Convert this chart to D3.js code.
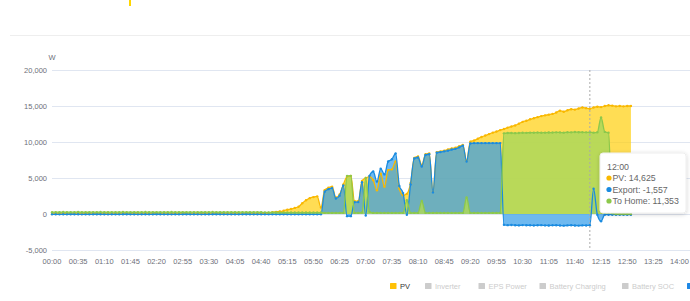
<!DOCTYPE html>
<html>
<head>
<meta charset="utf-8">
<script src="https://cdn.jsdelivr.net/npm/d3@7"></script>
<style>
  body { margin: 0; background: #fff; }
  svg { display: block; font-family: "Liberation Sans", Arial, sans-serif; }
</style>
</head>
<body>
<svg id="chart" width="690" height="301"></svg>
<script>
// categories are 5 minute steps starting at 00:00
var stepMinutes = 5;
var xTickLabels = ["00:00","00:35","01:10","01:45","02:20","02:55","03:30","04:05","04:40","05:15","05:50","06:25","07:00",
                   "07:35","08:10","08:45","09:20","09:55","10:30","11:05","11:40","12:15","12:50","13:25","14:00"];
var yTicks = [20000, 15000, 10000, 5000, 0, -5000];

// PV (W)
var pv = [
  0,0,0,0,0,0,0,0,0,0,0,0,0,0,
  0,0,0,0,0,0,0,0,0,0,0,0,0,0,
  0,0,0,0,0,0,0,0,0,0,0,0,0,0,
  0,0,0,0,0,0,0,0,0,0,0,0,0,0,
  50,100,150,250,300,350,450,600,700,850,1000,1500,1900,2200,2350,2450,900,
  3300,3650,3800,2300,2700,4100,5200,5300,1800,1800,4600,5000,5200,4700,3300,5600,3800,6100,6200,7300,
  3500,2600,2800,4300,7800,8000,6800,8300,8400,3100,8600,8700,8800,8950,9100,9200,9400,9600,7400,
  10050,10200,10450,10700,10900,11100,11300,11450,11650,
  11800,12000,12150,12300,12550,12800,12950,13150,13300,13450,13600,13700,13800,13900,14100,14350,
  14200,14400,14550,14500,14650,14800,14700,14625,
  14800,14900,14850,15000,15100,15050,14950,15000,14950,15000,15000
];

// Export (W)
var exportW = [
  -40,-40,-50,-40,-40,-30,-40,-40,-50,-40,-40,-40,-30,-40,
  -40,-50,-40,-40,-40,-40,-30,-40,-40,-50,-40,-40,-40,-40,
  -30,-40,-40,-40,-50,-40,-40,-40,-30,-40,-40,-40,-50,-40,
  -40,-40,-30,-40,-40,-50,-40,-40,-40,-40,-30,-40,-40,-40,
  -40,-40,-50,-40,-40,-40,-30,-40,-40,-40,-50,-40,-40,-40,-40,-40,-40,
  3100,3450,3600,2150,2550,3950,-300,-300,1650,1650,4400,-200,5300,5900,4500,6300,5500,7300,7600,8400,
  3900,2900,-100,4100,7700,7850,6600,8200,8300,3000,8500,8600,8700,8800,8950,9050,9250,9500,7300,
  9800,9850,9850,9850,9850,9850,9850,9850,9850,
  -1500,-1550,-1520,-1560,-1580,-1540,-1560,-1570,-1590,-1560,-1550,-1580,-1600,-1570,-1560,-1590,
  -1620,-1580,-1560,-1600,-1610,-1580,-1590,-1557,
  3500,-100,-1000,-100,-100,-100,-100,-100,-100,-100,-100
];

// To Home (W)
var toHome = [
  250,260,240,270,250,250,260,280,250,240,250,260,250,270,
  250,240,260,250,250,270,260,250,240,250,260,270,250,250,
  240,260,250,250,270,260,250,240,250,250,260,250,240,250,
  260,270,250,240,250,260,250,240,250,260,250,240,250,250,
  240,230,220,220,210,200,200,200,200,200,200,200,200,200,200,200,200,
  150,150,150,150,150,150,5300,5300,150,150,200,5000,300,150,150,150,150,150,150,150,
  150,150,1900,150,150,150,1800,150,150,150,150,150,150,150,150,150,150,150,2300,
  150,150,150,150,150,150,150,150,150,
  11200,11250,11250,11230,11260,11280,11270,11300,11290,11310,11280,11300,11320,11310,11340,11330,
  11300,11350,11340,11380,11360,11350,11340,11353,
  11300,11350,13400,11400,11300,100,0,0,0,0,0
];

var legendNames = ["PV", "Inverter", "EPS Power", "Battery Charging", "Battery SOC", ""];
var legendOn = [true, false, false, false, false, true];
var legendColors = ["#ffc107", "#cccccc", "#cccccc", "#cccccc", "#cccccc", "#1e88e5"];
var tipTime = "12:00";
var tipIndex = 144;

// plain hyphen for negatives, like the original
var fmt = function(v){ return d3.format(",")(v).replace('\u2212', '-') };
var svg = d3.select('#chart');

var x = d3.scaleLinear().domain([0, 840]).range([52, 679.5]);
var y = d3.scaleLinear().domain([-5000, 20000]).range([250, 70]);

// shadow for the tooltip
var defs = svg.append('defs');
defs.append('filter').attr('id', 'shadow')
    .attr('x', '-20%').attr('y', '-20%').attr('width', '140%').attr('height', '150%')
  .append('feDropShadow')
    .attr('dx', 0).attr('dy', 1).attr('stdDeviation', 2)
    .attr('flood-color', '#000').attr('flood-opacity', 0.18);

// bits at the top of the page
svg.append('rect').attr('x', 129).attr('y', 0).attr('width', 2).attr('height', 6).attr('fill', '#ffd600');
svg.append('line').attr('x1', 10).attr('x2', 690).attr('y1', 35.5).attr('y2', 35.5)
    .attr('stroke', '#eeeeee');

// grid + y labels
svg.selectAll('.grid').data(yTicks).enter().append('line')
    .attr('class', 'grid')
    .attr('x1', x(0)).attr('x2', 690)
    .attr('y1', function(d){ return Math.round(y(d)) + 0.5 })
    .attr('y2', function(d){ return Math.round(y(d)) + 0.5 })
    .attr('stroke', '#e0e6f1');

svg.selectAll('.ylab').data(yTicks).enter().append('text')
    .attr('class', 'ylab')
    .attr('x', 47)
    .attr('y', function(d){ return y(d) + 2.8 })
    .attr('text-anchor', 'end')
    .attr('font-size', 7.5)
    .attr('fill', '#6e7079')
    .text(function(d){ return fmt(d) });

svg.append('text').attr('x', 52).attr('y', 60).attr('text-anchor', 'middle')
    .attr('font-size', 7.5).attr('fill', '#6e7079').text('W');

// x labels
svg.selectAll('.xlab').data(xTickLabels).enter().append('text')
    .attr('class', 'xlab')
    .attr('x', function(d, i){ return x(i * 35) })
    .attr('y', 263.5)
    .attr('text-anchor', 'middle')
    .attr('font-size', 7.5)
    .attr('fill', '#6e7079')
    .text(function(d){ return d });

// series
var series = [
  { name: 'PV',      values: pv,      line: '#f9b800', fill: 'rgba(255,206,12,0.7)' },
  { name: 'Export',  values: exportW, line: '#1a8be0', fill: 'rgba(48,155,234,0.7)' },
  { name: 'To Home', values: toHome,  line: '#8cc84b', fill: 'rgba(173,216,90,0.85)' }
];

var area = d3.area()
    .x(function(d, i){ return x(i * stepMinutes) })
    .y0(y(0))
    .y1(function(d){ return y(d) })
    .curve(d3.curveMonotoneX);

var line = d3.line()
    .x(function(d, i){ return x(i * stepMinutes) })
    .y(function(d){ return y(d) })
    .curve(d3.curveMonotoneX);

series.forEach(function(s){
  svg.append('path').attr('d', area(s.values)).attr('fill', s.fill);
});

series.forEach(function(s){
  svg.append('path').attr('d', line(s.values))
      .attr('fill', 'none').attr('stroke', s.line).attr('stroke-width', 1.3);
  svg.append('g').selectAll('circle').data(s.values).enter().append('circle')
      .attr('cx', function(d, i){ return x(i * stepMinutes) })
      .attr('cy', function(d){ return y(d) })
      .attr('r', 1.2)
      .attr('fill', s.line);
});

// hover line
svg.append('line')
    .attr('x1', x(tipIndex * stepMinutes)).attr('x2', x(tipIndex * stepMinutes))
    .attr('y1', 70).attr('y2', 250)
    .attr('stroke', '#aaaaaa').attr('stroke-dasharray', '2,2');

// tooltip
var tip = svg.append('g').attr('transform', 'translate(600,153)');
tip.append('rect').attr('width', 86).attr('height', 60).attr('rx', 3)
    .attr('fill', '#fff').attr('stroke', '#eeeeee').attr('filter', 'url(#shadow)');
tip.append('text').attr('x', 7).attr('y', 16.5).attr('font-size', 8.8).attr('fill', '#666')
    .text(tipTime);
series.forEach(function(s, k){
  var yy = 28 + k * 11.5;
  tip.append('circle').attr('cx', 9).attr('cy', yy - 3).attr('r', 2.6).attr('fill', s.line);
  tip.append('text').attr('x', 12.5).attr('y', yy).attr('font-size', 8.8).attr('fill', '#666')
      .text(s.name + ': ' + fmt(s.values[tipIndex]));
});

// legend
var legendX = [390, 425, 478.5, 539.5, 622, 687];
var leg = svg.selectAll('.leg').data(legendNames).enter().append('g')
    .attr('class', 'leg')
    .attr('transform', function(d, i){ return 'translate(' + legendX[i] + ',283)' });
leg.append('rect').attr('width', 6.5).attr('height', 6).attr('rx', 0.5)
    .attr('fill', function(d, i){ return legendColors[i] });
leg.append('text').attr('x', 10).attr('y', 5.8).attr('font-size', 7.5)
    .attr('fill', function(d, i){ return legendOn[i] ? '#333' : '#cccccc' })
    .text(function(d){ return d });
</script>
</body>
</html>
